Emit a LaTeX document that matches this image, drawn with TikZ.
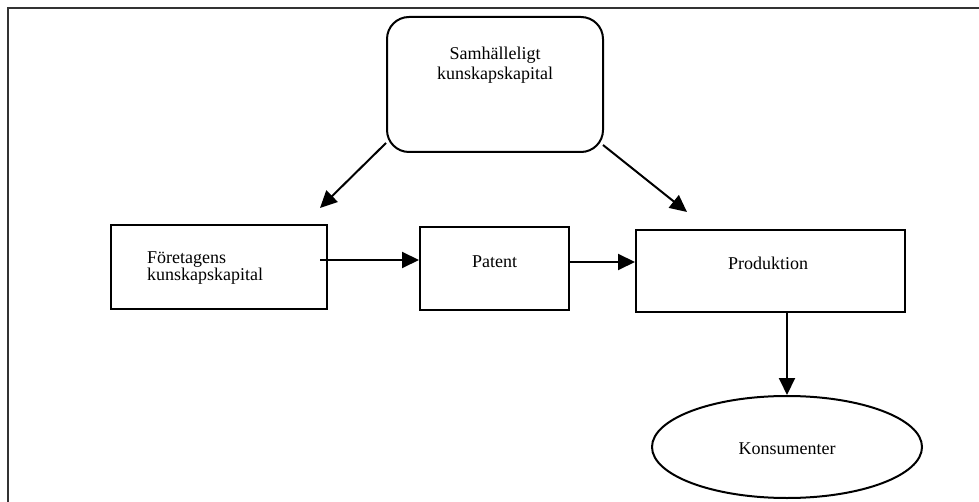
\documentclass[tikz,border=0pt]{standalone}
\usepackage{fontspec}
\setmainfont{Liberation Serif}
\usetikzlibrary{arrows.meta,shapes.geometric}
\begin{document}
\begin{tikzpicture}[x=1pt,y=-1pt,
  box/.style={draw=black,line width=2pt,inner sep=0pt},
  txt/.style={inner sep=0pt,font=\fontsize{18}{20}\selectfont},
  arr/.style={line width=2pt,-{Triangle[length=17pt,width=16pt]}}]
\useasboundingbox (0,0) rectangle (979,502);
% frame
\draw[line width=2pt,draw=black!80] (7.5,502) -- (7.5,8.5) -- (979,8.5);
% nodes
\node[box,rounded corners=22pt,minimum width=216pt,minimum height=135pt] (samh) at (495,84.5) {};
\node[txt,align=center] (samhT) at (495,65) {Samhälleligt\\kunskapskapital};
\node[box,minimum width=216pt,minimum height=84pt] (foret) at (219,267) {};
\node[txt,align=left,anchor=west,font=\fontsize{18}{16}\selectfont] (foretT) at (147,268) {Företagens\\kunskapskapital};
\node[box,minimum width=149pt,minimum height=83pt] (patent) at (494.5,268.5) {};
\node[txt] (patentT) at (494.5,262) {Patent};
\node[box,minimum width=269pt,minimum height=82pt] (prod) at (770.5,271) {};
\node[txt] (prodT) at (768,263) {Produktion};
\node[box,ellipse,minimum width=270pt,minimum height=102pt] (kons) at (787,447) {};
\node[txt] (konsT) at (787,449) {Konsumenter};
% connectors
\coordinate (s1) at (386,143);
\coordinate (t1) at (320,208);
\coordinate (s2) at (603,145);
\coordinate (t2) at (687,212);
\coordinate (s3) at (320,260);
\draw[arr] (s1) -- (t1);
\draw[arr] (s2) -- (t2);
\draw[arr] (s3) -- (patent.west |- s3);
\draw[arr] (patent.east |- 0,262) -- (prod.west |- 0,262);
\draw[arr] (kons.north |- prod.south) -- (kons.north);
\end{tikzpicture}
\end{document}
